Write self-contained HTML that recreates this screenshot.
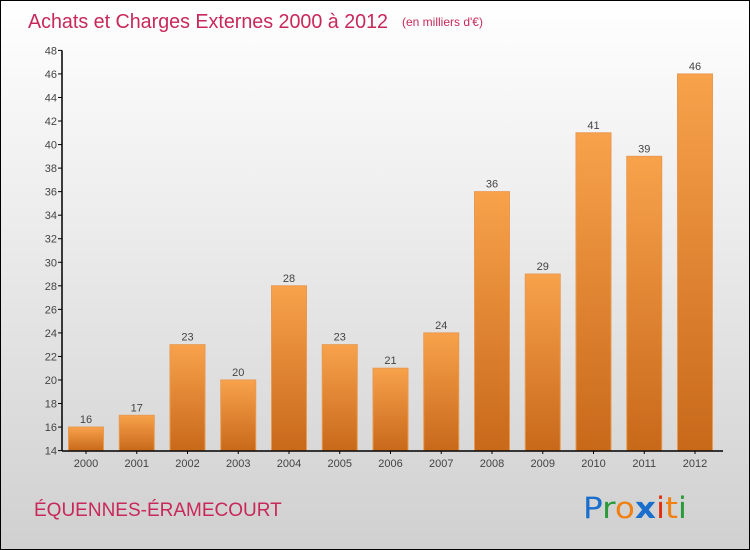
<!DOCTYPE html>
<html><head><meta charset="utf-8"><style>
body{margin:0;}
#wrap{position:relative;width:748px;height:548px;border:1px solid #000;background:linear-gradient(#ffffff,#d0d0d0);font-family:"Liberation Sans",sans-serif;overflow:hidden}
</style></head><body>
<div id="wrap">
<svg id="svg" width="748" height="548" xmlns="http://www.w3.org/2000/svg">
<defs><linearGradient id="bg" x1="0" y1="0" x2="0" y2="1"><stop offset="0" stop-color="#f8a24c"/><stop offset="1" stop-color="#c8691a"/></linearGradient></defs>
<text x="27" y="27" font-size="20" fill="#c8285a" textLength="360" lengthAdjust="spacingAndGlyphs">Achats et Charges Externes 2000 à 2012</text>
<text x="401" y="25" font-size="12" fill="#c8285a">(en milliers d'€)</text>
<text x="33" y="515" font-size="19" fill="#c8285a">ÉQUENNES-ÉRAMECOURT</text>
<g font-size="29" font-family="'DejaVu Sans',sans-serif">
<text x="582" y="517" textLength="104" lengthAdjust="spacingAndGlyphs"><tspan fill="#1a6fcc">P</tspan><tspan fill="#2a9a3a">r</tspan><tspan fill="#f08010">o</tspan><tspan fill="#1a6fcc" font-weight="bold">x</tspan><tspan fill="#e03010">i</tspan><tspan fill="#f08010">t</tspan><tspan fill="#2a9a3a">i</tspan></text></g>
<g id="plot"></g>
</svg></div>
<script>
const years=["2000","2001","2002","2003","2004","2005","2006","2007","2008","2009","2010","2011","2012"];
const values=[16,17,23,20,28,23,21,24,36,29,41,39,46];
const yTicks=[14,16,18,20,22,24,26,28,30,32,34,36,38,40,42,44,46,48];
const ns="http://www.w3.org/2000/svg";
const g=document.getElementById('plot');
const y=v=>449.6-(v-14)*(400.2/34);
const x=i=>85+i*50.75;
function mk(t,a){const e=document.createElementNS(ns,t);for(const k in a)e.setAttribute(k,a[k]);g.appendChild(e);return e;}
yTicks.forEach(t=>{
 const l=mk('line',{x1:57,x2:61,y1:y(t),y2:y(t),stroke:'#000'});
 
 
 const tx=mk('text',{x:56,y:y(t)+4,'text-anchor':'end','font-size':11,fill:'#444'});
 tx.textContent=t;
 
 
});
values.forEach((v,i)=>{
 const r=mk('rect',{x:x(i)-17.5,y:y(v),width:35,height:y(14)-y(v),fill:'url(#bg)',stroke:'#e89a50','stroke-width':1});
 
 
 const vl=mk('text',{x:x(i),y:y(v)-4,'text-anchor':'middle','font-size':11,fill:'#444'});
 vl.textContent=v;
 
 
 const xl=mk('text',{x:x(i),y:466,'text-anchor':'middle','font-size':11,fill:'#444'});
 xl.textContent=years[i];
 
 
 const tk=mk('line',{x1:x(i),x2:x(i),y1:449.6,y2:453,stroke:'#000'});
 
 
});
const ya=mk('line',{x1:61,x2:61,y1:y(48),y2:450,stroke:'#000','stroke-width':1.5});


const xa=mk('line',{x1:61,x2:722,y1:450,y2:450,stroke:'#000','stroke-width':1.5});


</script>
</body></html>
